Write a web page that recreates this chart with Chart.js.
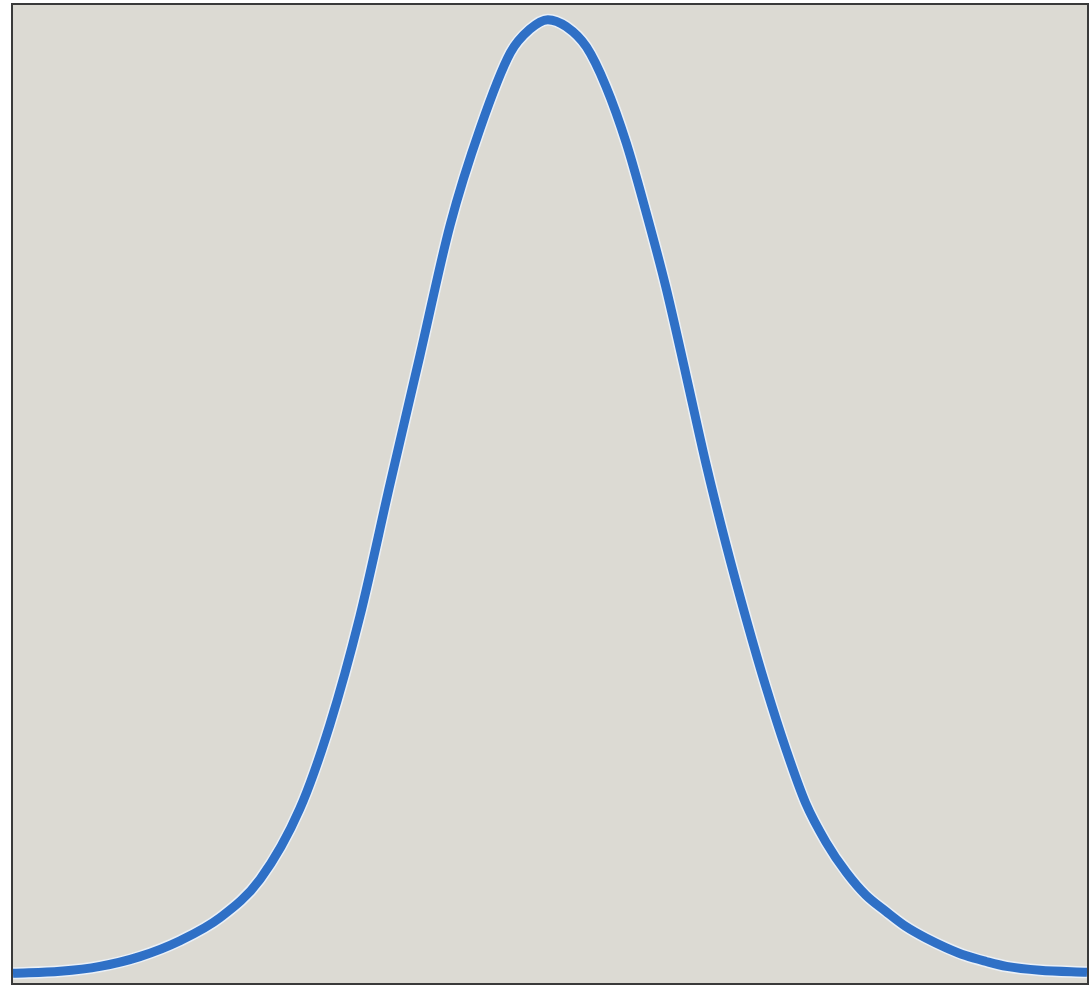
<!DOCTYPE html>
<html>
<head>
<meta charset="utf-8">
<script src="https://cdn.jsdelivr.net/npm/chart.js@4"></script>
<style>
  html, body { margin: 0; padding: 0; background: #ffffff; }
  #frame {
    position: absolute;
    left: 11px; top: 3px;
    width: 1074px; height: 978px;
    border: 2px solid #3a3a3a;
    background: #dcdad3;
  }
  #c { display: block; }
</style>
</head>
<body>
<div id="frame"><canvas id="c" width="1074" height="978"></canvas></div>
<script>
// Positions along the horizontal axis (arbitrary units, 0 = left edge, 100 = right edge)
const xValues = [0, 4.4, 8.1, 11.8, 15.5, 19.3, 23.0, 26.7, 29.5, 32.3, 35.1, 37.9, 40.7, 43.5, 46.3, 48.1, 49.8,
                 51.5, 53.4, 55.2, 57.1, 58.9, 60.8, 62.7, 64.5, 66.4, 68.3, 70.1, 72.0, 73.8, 75.7, 77.6, 79.4,
                 81.3, 83.1, 85.0, 86.9, 88.7, 90.6, 92.5, 95.6, 100];
// Curve height (arbitrary units, 0 = bottom edge, 100 = top edge)
const yValues = [1.0, 1.2, 1.7, 2.7, 4.3, 6.7, 10.6, 17.8, 26.4, 37.5, 51.0, 64.2, 77.5, 87.4, 95.1, 97.5, 98.5,
                 97.8, 95.7, 91.7, 85.9, 79.0, 71.1, 62.0, 53.2, 44.8, 37.1, 30.3, 23.8, 18.4, 14.4, 11.3, 9.0,
                 7.3, 5.8, 4.6, 3.6, 2.8, 2.2, 1.7, 1.3, 1.1];

const seriesColor = '#2f70c6';
const haloColor = '#eaf0f7';

new Chart(document.getElementById('c'), {
  type: 'line',
  data: {
    datasets: [
      {
        data: xValues.map((x, i) => ({ x: x, y: yValues[i] })),
        borderColor: seriesColor,
        borderWidth: 9,
        pointRadius: 0,
        cubicInterpolationMode: 'monotone',
        fill: false,
        clip: false,
        order: 0
      },
      {
        data: xValues.map((x, i) => ({ x: x, y: yValues[i] })),
        borderColor: haloColor,
        borderWidth: 12,
        pointRadius: 0,
        cubicInterpolationMode: 'monotone',
        fill: false,
        clip: false,
        order: 1
      }
    ]
  },
  options: {
    responsive: false,
    animation: false,
    layout: { padding: 0 },
    plugins: { legend: { display: false }, tooltip: { enabled: false } },
    scales: {
      x: { type: 'linear', min: 0, max: 100, display: false },
      y: { type: 'linear', min: 0, max: 100, display: false }
    }
  }
});
</script>
</body>
</html>
